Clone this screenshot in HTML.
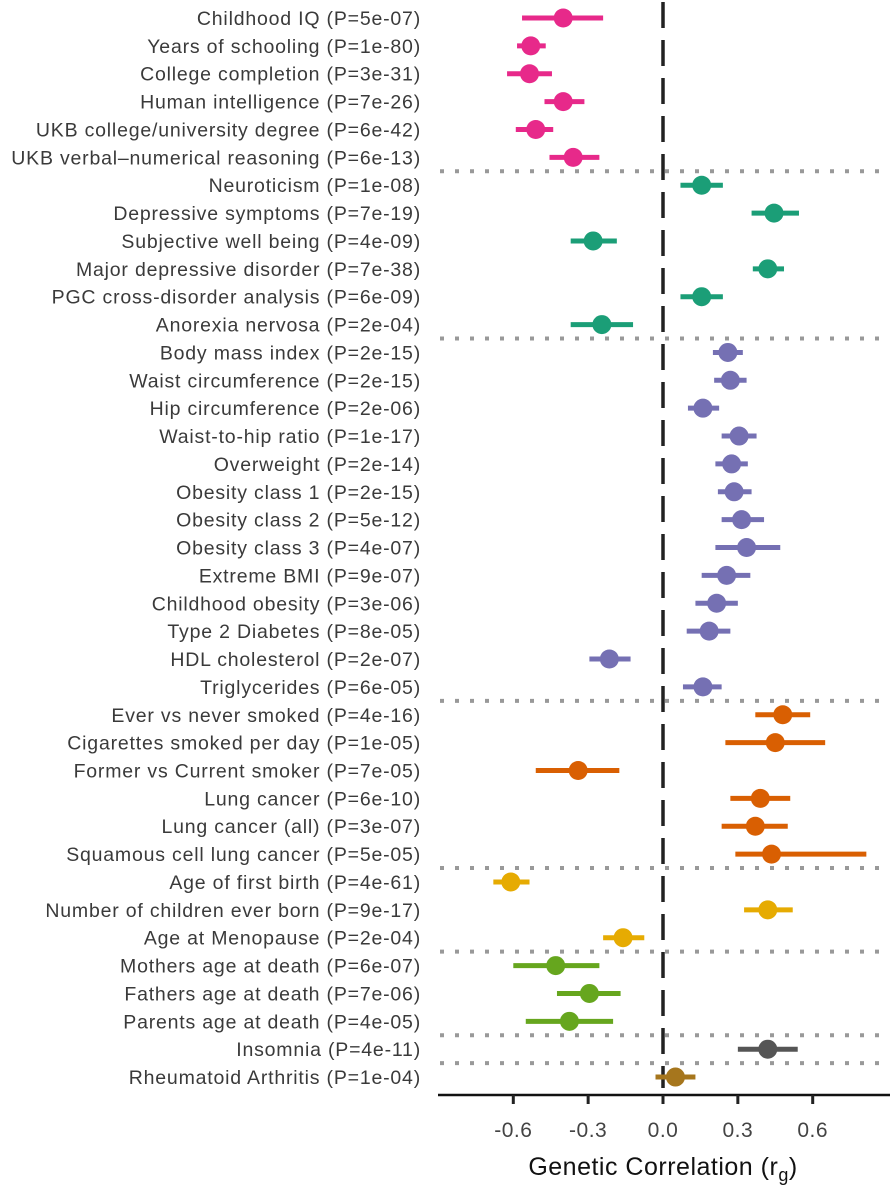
<!DOCTYPE html>
<html><head><meta charset="utf-8"><style>
body{margin:0;background:#fff;width:890px;height:1200px;overflow:hidden}
svg{display:block;font-family:"Liberation Sans",Arial,sans-serif}
</style></head><body>
<svg id="chart" width="890" height="1200"></svg>
<script>
const labels=["Childhood IQ (P=5e-07)","Years of schooling (P=1e-80)","College completion (P=3e-31)","Human intelligence (P=7e-26)","UKB college/university degree (P=6e-42)","UKB verbal–numerical reasoning (P=6e-13)","Neuroticism (P=1e-08)","Depressive symptoms (P=7e-19)","Subjective well being (P=4e-09)","Major depressive disorder (P=7e-38)","PGC cross-disorder analysis (P=6e-09)","Anorexia nervosa (P=2e-04)","Body mass index (P=2e-15)","Waist circumference (P=2e-15)","Hip circumference (P=2e-06)","Waist-to-hip ratio (P=1e-17)","Overweight (P=2e-14)","Obesity class 1 (P=2e-15)","Obesity class 2 (P=5e-12)","Obesity class 3 (P=4e-07)","Extreme BMI (P=9e-07)","Childhood obesity (P=3e-06)","Type 2 Diabetes (P=8e-05)","HDL cholesterol (P=2e-07)","Triglycerides (P=6e-05)","Ever vs never smoked (P=4e-16)","Cigarettes smoked per day (P=1e-05)","Former vs Current smoker (P=7e-05)","Lung cancer (P=6e-10)","Lung cancer (all) (P=3e-07)","Squamous cell lung cancer (P=5e-05)","Age of first birth (P=4e-61)","Number of children ever born (P=9e-17)","Age at Menopause (P=2e-04)","Mothers age at death (P=6e-07)","Fathers age at death (P=7e-06)","Parents age at death (P=4e-05)","Insomnia (P=4e-11)","Rheumatoid Arthritis (P=1e-04)"];
const estimates=[-0.40,-0.53,-0.535,-0.40,-0.51,-0.36,0.155,0.445,-0.28,0.42,0.155,-0.245,0.26,0.27,0.16,0.305,0.275,0.285,0.315,0.335,0.255,0.215,0.185,-0.215,0.16,0.48,0.45,-0.34,0.39,0.37,0.435,-0.61,0.42,-0.16,-0.43,-0.295,-0.375,0.42,0.05];
const lower=[-0.565,-0.585,-0.625,-0.475,-0.59,-0.455,0.07,0.355,-0.37,0.36,0.07,-0.37,0.2,0.205,0.1,0.235,0.21,0.22,0.235,0.21,0.155,0.13,0.095,-0.295,0.08,0.37,0.25,-0.51,0.27,0.235,0.29,-0.68,0.325,-0.24,-0.6,-0.425,-0.55,0.3,-0.03];
const upper=[-0.24,-0.47,-0.445,-0.315,-0.44,-0.255,0.24,0.545,-0.185,0.485,0.24,-0.12,0.32,0.335,0.225,0.375,0.34,0.355,0.405,0.47,0.35,0.3,0.27,-0.13,0.235,0.59,0.65,-0.175,0.51,0.5,0.815,-0.535,0.52,-0.075,-0.255,-0.17,-0.2,0.54,0.13];
const groups=[0,0,0,0,0,0,1,1,1,1,1,1,2,2,2,2,2,2,2,2,2,2,2,2,2,3,3,3,3,3,3,4,4,4,5,5,5,6,7];
const groupColors=["#e7298a","#1b9e77","#7570b3","#d95f02","#e6ab02","#66a61e","#555555","#a6761d"];
const xTicks=[-0.6,-0.3,0.0,0.3,0.6];
const NS="http://www.w3.org/2000/svg";
const svg=document.getElementById('chart');
const X=v=>663+v*249.5;
const Y=i=>18+i*27.87;
function mk(t,a,p){const e=document.createElementNS(NS,t);for(const k in a)e.setAttribute(k,a[k]);(p||svg).appendChild(e);return e;}
for(let i=1;i<groups.length;i++){if(groups[i]!==groups[i-1]){
 const l=mk('line',{x1:440,x2:890,y1:(Y(i)+Y(i-1))/2,y2:(Y(i)+Y(i-1))/2,stroke:'#999',"stroke-width":4,"stroke-dasharray":"4 11"});
 
 }}
const z=mk('line',{x1:X(0),x2:X(0),y1:2,y2:1088,stroke:'#222',"stroke-width":3.5,"stroke-dasharray":"26 12"});


labels.forEach((lb,i)=>{
 const t=mk('text',{x:421,y:Y(i)+7,"text-anchor":"end","font-size":19.5,"letter-spacing":0.8,fill:'#3a3a3a'});t.textContent=lb;
 
 
 const c=groupColors[groups[i]];
 const g=mk('g',{});
 
 
 mk('line',{x1:X(lower[i]),x2:X(upper[i]),y1:Y(i),y2:Y(i),stroke:c,"stroke-width":5},g);
 mk('circle',{cx:X(estimates[i]),cy:Y(i),r:9.5,fill:c},g);
});
const ax=mk('line',{x1:438,x2:890,y1:1095,y2:1095,stroke:'#111',"stroke-width":2.5});


xTicks.forEach(v=>{
 mk('line',{x1:X(v),x2:X(v),y1:1095,y2:1104,stroke:'#222',"stroke-width":3});
 const t=mk('text',{x:X(v),y:1137,"text-anchor":"middle","font-size":21,"letter-spacing":0.5,fill:'#444'});t.textContent=v.toFixed(1);
 
 
});
const tt=mk('text',{x:663,y:1175,"text-anchor":"middle","font-size":25,"letter-spacing":0.5,fill:'#111'});
tt.innerHTML='Genetic Correlation (r<tspan font-size="18" dy="6">g</tspan><tspan dy="-6">)</tspan>';


</script>
</body></html>
